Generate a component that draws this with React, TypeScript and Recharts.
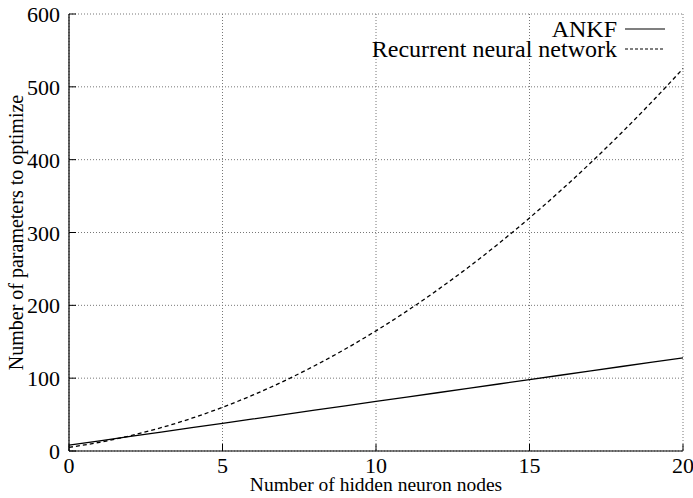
import { LineChart, Line, XAxis, YAxis, CartesianGrid, Legend } from "recharts";

const nodes = [0, 1, 2, 3, 4, 5, 6, 7, 8, 9, 10, 11, 12, 13, 14, 15, 16, 17, 18, 19, 20];
const ankf = [8, 14, 20, 26, 32, 38, 44, 50, 56, 62, 68, 74, 80, 86, 92, 98, 104, 110, 116, 122, 128];
const rnn = [5, 12, 21, 32, 45, 60, 77, 96, 117, 140, 165, 192, 221, 252, 285, 320, 357, 396, 437, 480, 525];
const xTicks = [0, 5, 10, 15, 20];
const yTicks = [0, 100, 200, 300, 400, 500, 600];

const data = nodes.map((n, i) => ({ n, ankf: ankf[i], rnn: rnn[i] }));

const FONT = "'Liberation Serif', 'Times New Roman', serif";
const TICK = 7;

function BottomTick({ x, y, payload }: any) {
  return (
    <g>
      <line x1={x} x2={x} y1={y - 6} y2={y - 6 - TICK} stroke="#000" />
      <text x={x} y={y + 16} textAnchor="middle" fontFamily={FONT} fontSize={22} fill="#000">
        {payload.value}
      </text>
    </g>
  );
}

function LeftTick({ x, y, payload }: any) {
  return (
    <g>
      <line x1={x + 9} x2={x + 9 + TICK} y1={y} y2={y} stroke="#000" />
      <text x={x} y={y + 8} textAnchor="end" fontFamily={FONT} fontSize={22} fill="#000">
        {payload.value}
      </text>
    </g>
  );
}

function TopTick({ x, y }: any) {
  return <line x1={x} x2={x} y1={y} y2={y + TICK} stroke="#000" />;
}

function RightTick({ x, y }: any) {
  return <line x1={x} x2={x - TICK} y1={y} y2={y} stroke="#000" />;
}

function KeyBox() {
  const rows = [
    { label: "ANKF", dash: undefined },
    { label: "Recurrent neural network", dash: "3 2" },
  ];
  return (
    <svg width={400} height={50} style={{ display: "block" }}>
      {rows.map((r, i) => (
        <g key={r.label}>
          <text
            x={346}
            y={23 + i * 20}
            textAnchor="end"
            fontFamily={FONT}
            fontSize={24}
            fill="#000"
          >
            {r.label}
          </text>
          <line
            x1={354}
            x2={394}
            y1={15 + i * 20}
            y2={15 + i * 20}
            stroke="#000"
            strokeWidth={1.2}
            strokeDasharray={r.dash}
          />
        </g>
      ))}
    </svg>
  );
}

export default function App() {
  return (
    <div style={{ position: "absolute", left: 0, top: 0, background: "#fff" }}>
      <LineChart
        width={693}
        height={498}
        data={data}
        margin={{ top: 14, right: 10, left: 0, bottom: 0 }}
      >
        <CartesianGrid stroke="#777" strokeDasharray="1 2" />
        <XAxis
          dataKey="n"
          type="number"
          domain={[0, 20]}
          ticks={xTicks}
          height={47}
          tickSize={0}
          tickMargin={6}
          tick={<BottomTick />}
          axisLine={{ stroke: "#000", strokeWidth: 1.2 }}
          label={{
            value: "Number of hidden neuron nodes",
            position: "insideBottom",
            offset: 7,
            style: { fontFamily: FONT, fontSize: 19.5, fill: "#000" },
          }}
        />
        <XAxis
          xAxisId="top"
          orientation="top"
          dataKey="n"
          type="number"
          domain={[0, 20]}
          ticks={xTicks}
          height={0}
          tickSize={0}
          tickMargin={0}
          tick={<TopTick />}
          axisLine={{ stroke: "#000", strokeWidth: 1.2 }}
        />
        <YAxis
          type="number"
          domain={[0, 600]}
          ticks={yTicks}
          width={69}
          tickSize={0}
          tickMargin={9}
          tick={<LeftTick />}
          axisLine={{ stroke: "#000", strokeWidth: 1.2 }}
          label={{
            value: "Number of parameters to optimize",
            angle: -90,
            position: "insideLeft",
            offset: 16,
            style: { textAnchor: "middle", fontFamily: FONT, fontSize: 20, fill: "#000" },
          }}
        />
        <YAxis
          yAxisId="right"
          orientation="right"
          type="number"
          domain={[0, 600]}
          ticks={yTicks}
          width={0}
          tickSize={0}
          tickMargin={0}
          tick={<RightTick />}
          axisLine={{ stroke: "#000", strokeWidth: 1.2 }}
        />
        <Legend
          layout="horizontal"
          verticalAlign="middle"
          align="center"
          content={<KeyBox />}
          wrapperStyle={{ top: 14, left: 271, width: 400 }}
        />
        <Line
          dataKey="ankf"
          name="ANKF"
          type="linear"
          stroke="#000"
          strokeWidth={1.3}
          dot={false}
          isAnimationActive={false}
        />
        <Line
          dataKey="rnn"
          name="Recurrent neural network"
          type="monotone"
          stroke="#000"
          strokeWidth={1.3}
          strokeDasharray="4 3"
          dot={false}
          isAnimationActive={false}
        />
      </LineChart>
    </div>
  );
}
